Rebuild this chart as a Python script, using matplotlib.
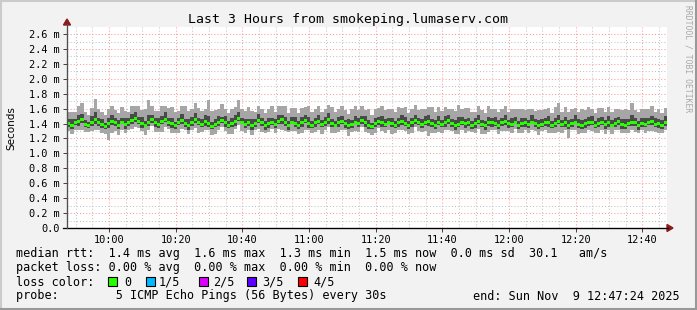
import numpy as np
import matplotlib.pyplot as plt
from matplotlib.patches import Rectangle, Polygon
from matplotlib.lines import Line2D

# median rtt per minute, in 1/100 ms, from 09:47:24 to 12:47:24
median = [
    140, 138, 141, 143, 146, 139, 137, 142, 145, 141, 139, 136, 140, 143, 141, 138, 142, 139, 141, 144,
    147, 143, 140, 138, 142, 145, 141, 139, 143, 146, 142, 140, 137, 141, 144, 140, 138, 142, 145, 141,
    139, 143, 140, 136, 139, 142, 144, 141, 138, 140, 143, 147, 142, 139, 141, 138, 140, 144, 141, 137,
    140, 142, 139, 143, 145, 141, 138, 142, 140, 137, 141, 144, 140, 138, 141, 143, 139, 142, 145, 140,
    138, 141, 143, 140, 137, 139, 142, 140, 144, 141, 138, 136, 140, 143, 141, 139, 142, 140, 138, 141,
    143, 140, 137, 141, 144, 142, 139, 141, 143, 140, 138, 142, 139, 141, 144, 140, 137, 139, 142, 140,
    141, 138, 140, 143, 139, 137, 141, 142, 140, 138, 141, 143, 140, 139, 142, 138, 140, 141, 139, 142,
    140, 137, 139, 142, 141, 138, 140, 143, 139, 141, 138, 140, 142, 139, 137, 140, 142, 141, 138, 140,
    142, 139, 141, 138, 140, 143, 139, 137, 140, 142, 141, 138, 140, 139, 141, 143, 139, 140, 138, 141,
]
# fastest ping below the median
lo_gap = [
    10, 12, 9, 11, 14, 10, 8, 12, 13, 9, 11, 10, 22, 15, 11, 13, 10, 12, 9, 11,
    12, 9, 10, 13, 11, 8, 12, 10, 14, 11, 9, 12, 10, 13, 11, 9, 12, 10, 11, 13,
    10, 12, 9, 11, 13, 10, 8, 11, 12, 14, 10, 9, 12, 11, 10, 13, 9, 11, 12, 10,
    11, 9, 12, 10, 13, 11, 9, 12, 10, 11, 14, 12, 9, 10, 12, 11, 13, 10, 9, 12,
    10, 12, 11, 9, 13, 10, 12, 11, 9, 12, 10, 11, 13, 9, 11, 12, 10, 14, 11, 9,
    12, 10, 11, 13, 9, 12, 10, 11, 20, 12, 10, 13, 11, 9, 12, 10, 11, 13, 10, 12,
    11, 9, 12, 10, 13, 11, 12, 10, 9, 12, 11, 13, 10, 12, 9, 11, 13, 10, 12, 11,
    10, 12, 9, 11, 13, 10, 12, 14, 11, 10, 18, 9, 11, 13, 10, 12, 11, 11, 10, 12,
    11, 13, 10, 12, 9, 11, 12, 10, 13, 11, 12, 10, 9, 12, 11, 13, 10, 12, 11, 10,
]
# slowest ping above the median
hi_gap = [
    16, 18, 15, 20, 22, 17, 14, 19, 28, 18, 16, 15, 19, 21, 17, 16, 20, 18, 15, 19,
    17, 20, 18, 22, 30, 19, 16, 18, 21, 17, 19, 22, 18, 16, 20, 23, 19, 17, 23, 20,
    18, 16, 32, 21, 19, 17, 22, 18, 16, 20, 19, 24, 17, 18, 21, 19, 16, 20, 18, 17,
    19, 21, 17, 20, 18, 22, 16, 19, 21, 17, 20, 18, 23, 17, 19, 21, 16, 18, 20, 22,
    17, 19, 21, 18, 16, 20, 22, 18, 19, 17, 21, 16, 20, 18, 22, 19, 17, 20, 18, 21,
    18, 22, 17, 19, 21, 16, 20, 18, 19, 22, 17, 20, 18, 21, 16, 19, 20, 26, 18, 21,
    20, 18, 16, 21, 19, 17, 22, 18, 20, 17, 19, 21, 16, 20, 18, 22, 19, 17, 20, 18,
    17, 21, 19, 18, 20, 16, 22, 24, 17, 21, 18, 20, 19, 17, 22, 18, 20, 19, 16, 21,
    19, 17, 21, 18, 20, 16, 19, 22, 18, 26, 17, 17, 19, 21, 18, 20, 17, 19, 16, 20,
]
# inner smoke (2nd and 4th ping)
in_lo = [
    4, 5, 3, 6, 5, 4, 3, 5, 6, 4, 5, 3, 6, 5, 4, 5, 3, 6, 4, 5,
    5, 4, 6, 3, 5, 4, 6, 5, 3, 4, 5, 6, 4, 3, 5, 4, 6, 5, 4, 3,
    4, 6, 5, 3, 4, 5, 3, 6, 4, 5, 6, 4, 3, 5, 4, 6, 5, 3, 4, 5,
    6, 4, 5, 3, 5, 4, 6, 3, 5, 4, 5, 3, 6, 4, 5, 4, 3, 5, 6, 4,
    3, 5, 4, 6, 4, 5, 3, 5, 4, 6, 5, 3, 4, 5, 6, 4, 3, 5, 4, 5,
    5, 3, 4, 6, 5, 4, 5, 3, 6, 4, 5, 4, 3, 6, 5, 4, 5, 3, 4, 6,
    4, 5, 6, 3, 4, 5, 4, 6, 3, 5, 4, 5, 6, 4, 3, 5, 4, 6, 5, 3,
    5, 4, 3, 5, 6, 4, 5, 3, 4, 6, 5, 4, 3, 5, 4, 6, 5, 3, 4, 5,
    4, 6, 5, 3, 4, 5, 6, 4, 3, 5, 4, 6, 5, 4, 3, 5, 4, 6, 5, 4,
]
in_hi = [
    6, 8, 5, 9, 7, 6, 5, 8, 10, 6, 7, 5, 8, 9, 6, 7, 5, 8, 6, 9,
    8, 6, 9, 5, 10, 7, 6, 8, 7, 9, 6, 8, 5, 7, 9, 6, 8, 7, 9, 6,
    7, 9, 10, 6, 7, 8, 5, 9, 6, 7, 8, 9, 6, 7, 5, 8, 6, 9, 7, 6,
    8, 6, 7, 9, 6, 8, 5, 7, 9, 6, 8, 7, 9, 5, 7, 8, 6, 7, 9, 6,
    6, 8, 7, 5, 9, 6, 8, 7, 6, 9, 7, 5, 8, 6, 9, 7, 6, 8, 5, 7,
    8, 9, 6, 7, 8, 6, 7, 9, 8, 6, 7, 8, 6, 9, 7, 6, 8, 10, 7, 6,
    7, 6, 8, 9, 6, 7, 8, 6, 9, 7, 6, 8, 5, 9, 7, 6, 8, 7, 6, 9,
    6, 8, 7, 6, 9, 5, 8, 9, 6, 8, 7, 6, 9, 7, 8, 6, 7, 9, 6, 8,
    7, 6, 9, 7, 8, 6, 7, 9, 6, 10, 7, 6, 8, 9, 6, 7, 8, 6, 7, 9,
]

time_labels = ["10:00", "10:20", "10:40", "11:00", "11:20", "11:40", "12:00", "12:20", "12:40"]
loss_names = ["0", "1/5", "2/5", "3/5", "4/5"]
loss_colors = ["#26ff00", "#00b8ff", "#dd00ff", "#5e00ff", "#ff0000"]

W, H = 697, 310
MONO = "DejaVu Sans Mono"


def fx(x):
    return x / W


def fy(y):
    return 1 - y / H


med = np.array(median) / 100.0
lo = med - np.array(lo_gap) / 100.0
hi = med + np.array(hi_gap) / 100.0
ilo = med - np.array(in_lo) / 100.0
ihi = med + np.array(in_hi) / 100.0

start = 9 * 60 + 47.4  # minutes after midnight
t = start + np.arange(len(med))

fig = plt.figure(figsize=(W / 100, H / 100), dpi=100, facecolor="#f2f2f2")
ax = fig.add_axes([fx(67), fy(228), 600 / W, (228 - 26.6) / H])
ax.set_facecolor("white")

ax.bar(t, hi - lo, bottom=lo, width=1.0, align="edge", color="#a6a6a6", linewidth=0)
ax.bar(t, ihi - ilo, bottom=ilo, width=1.0, align="edge", color="#4a4a4a", linewidth=0)
ax.bar(t, 0.04, bottom=med - 0.02, width=1.0, align="edge", color=loss_colors[0], linewidth=0)

ax.set_xlim(start, start + 180)
ax.set_ylim(0, 2.7)

major_x = [10 * 60 + 20 * i for i in range(len(time_labels))]
ax.set_xticks(major_x)
ax.set_xticklabels(time_labels)
ax.set_xticks(np.arange(9 * 60 + 50, start + 180, 5), minor=True)

yt = np.arange(0, 2.61, 0.2)
ax.set_yticks(yt)
ax.set_yticklabels(["0.0"] + ["%.1f m" % v for v in yt[1:]])
ax.set_yticks(np.arange(0.1, 2.7, 0.2), minor=True)

ax.set_axisbelow(True)
ax.grid(which="minor", color="#c4c4c4", linestyle=(0, (1, 2)), linewidth=0.75)
ax.grid(which="major", color="#ff9a9a", linestyle=(0, (1, 2)), linewidth=0.75)

for s in ["top", "right"]:
    ax.spines[s].set_visible(False)
ax.spines["left"].set_color("#505050")
ax.spines["bottom"].set_color("black")
ax.tick_params(which="both", labelsize=7.4, length=3, width=0.7, colors="#404040",
               labelcolor="black", pad=2)
ax.tick_params(which="minor", length=0)
for lab in ax.get_xticklabels() + ax.get_yticklabels():
    lab.set_family(MONO)

# axis extension and arrow heads
fig.add_artist(Line2D([fx(63), fx(668)], [fy(228), fy(228)], color="black", lw=0.9))
fig.add_artist(Line2D([fx(67), fx(67)], [fy(228), fy(24)], color="#505050", lw=0.9))
fig.add_artist(Polygon([[fx(667), fy(224.5)], [fx(667), fy(231.5)], [fx(673), fy(228)]],
                       closed=True, color="#8b1a1a", transform=fig.transFigure))
fig.add_artist(Polygon([[fx(63.5), fy(25)], [fx(70.5), fy(25)], [fx(67), fy(19)]],
                       closed=True, color="#8b1a1a", transform=fig.transFigure))

fig.text(fx(348), fy(19), "Last 3 Hours from smokeping.lumaserv.com", family=MONO,
         fontsize=9.5, ha="center", va="center")
fig.text(fx(11), fy(128), "Seconds", family="DejaVu Sans", fontsize=7.5, rotation=90,
         ha="center", va="center")
fig.text(fx(688), fy(5), "RRDTOOL / TOBI OETIKER", family=MONO, fontsize=5.8,
         color="#a8a8a8", rotation=-90, ha="center", va="top")

fs = 8.5
fig.text(fx(16), fy(254), "median rtt:  %.1f ms avg  %.1f ms max  %.1f ms min  %.1f ms now  0.0 ms sd  30.1   am/s"
         % (1.4, 1.6, 1.3, 1.5), family=MONO, fontsize=fs, va="center")
fig.text(fx(16), fy(268), "packet loss: 0.00 % avg  0.00 % max  0.00 % min  0.00 % now",
         family=MONO, fontsize=fs, va="center")
fig.text(fx(16), fy(282), "loss color:", family=MONO, fontsize=fs, va="center")
box_x = [108, 146, 199, 247, 298]
lab_x = [124, 159, 213, 262, 313]
for bx, lx, name, col in zip(box_x, lab_x, loss_names, loss_colors):
    fig.add_artist(Rectangle((fx(bx), fy(286)), 9 / W, 9 / H, facecolor=col,
                             edgecolor="black", lw=0.8, transform=fig.transFigure))
    fig.text(fx(lx), fy(282), name, family=MONO, fontsize=fs, va="center")
fig.text(fx(16), fy(296), "probe:        5 ICMP Echo Pings (56 Bytes) every 30s",
         family=MONO, fontsize=fs, va="center")
fig.text(fx(680), fy(296), "end: Sun Nov  9 12:47:24 2025", family=MONO, fontsize=fs,
         ha="right", va="center")

# 3d frame
fig.add_artist(Line2D([fx(1), fx(1)], [0, 1], color="#cbcbcb", lw=1.5))
fig.add_artist(Line2D([0, 1], [fy(1), fy(1)], color="#cbcbcb", lw=1.5))
fig.add_artist(Line2D([fx(696), fx(696)], [0, 1], color="#999999", lw=1.5))
fig.add_artist(Line2D([0, 1], [fy(309), fy(309)], color="#999999", lw=1.5))

fig.savefig("out.png", dpi=100, facecolor=fig.get_facecolor())
